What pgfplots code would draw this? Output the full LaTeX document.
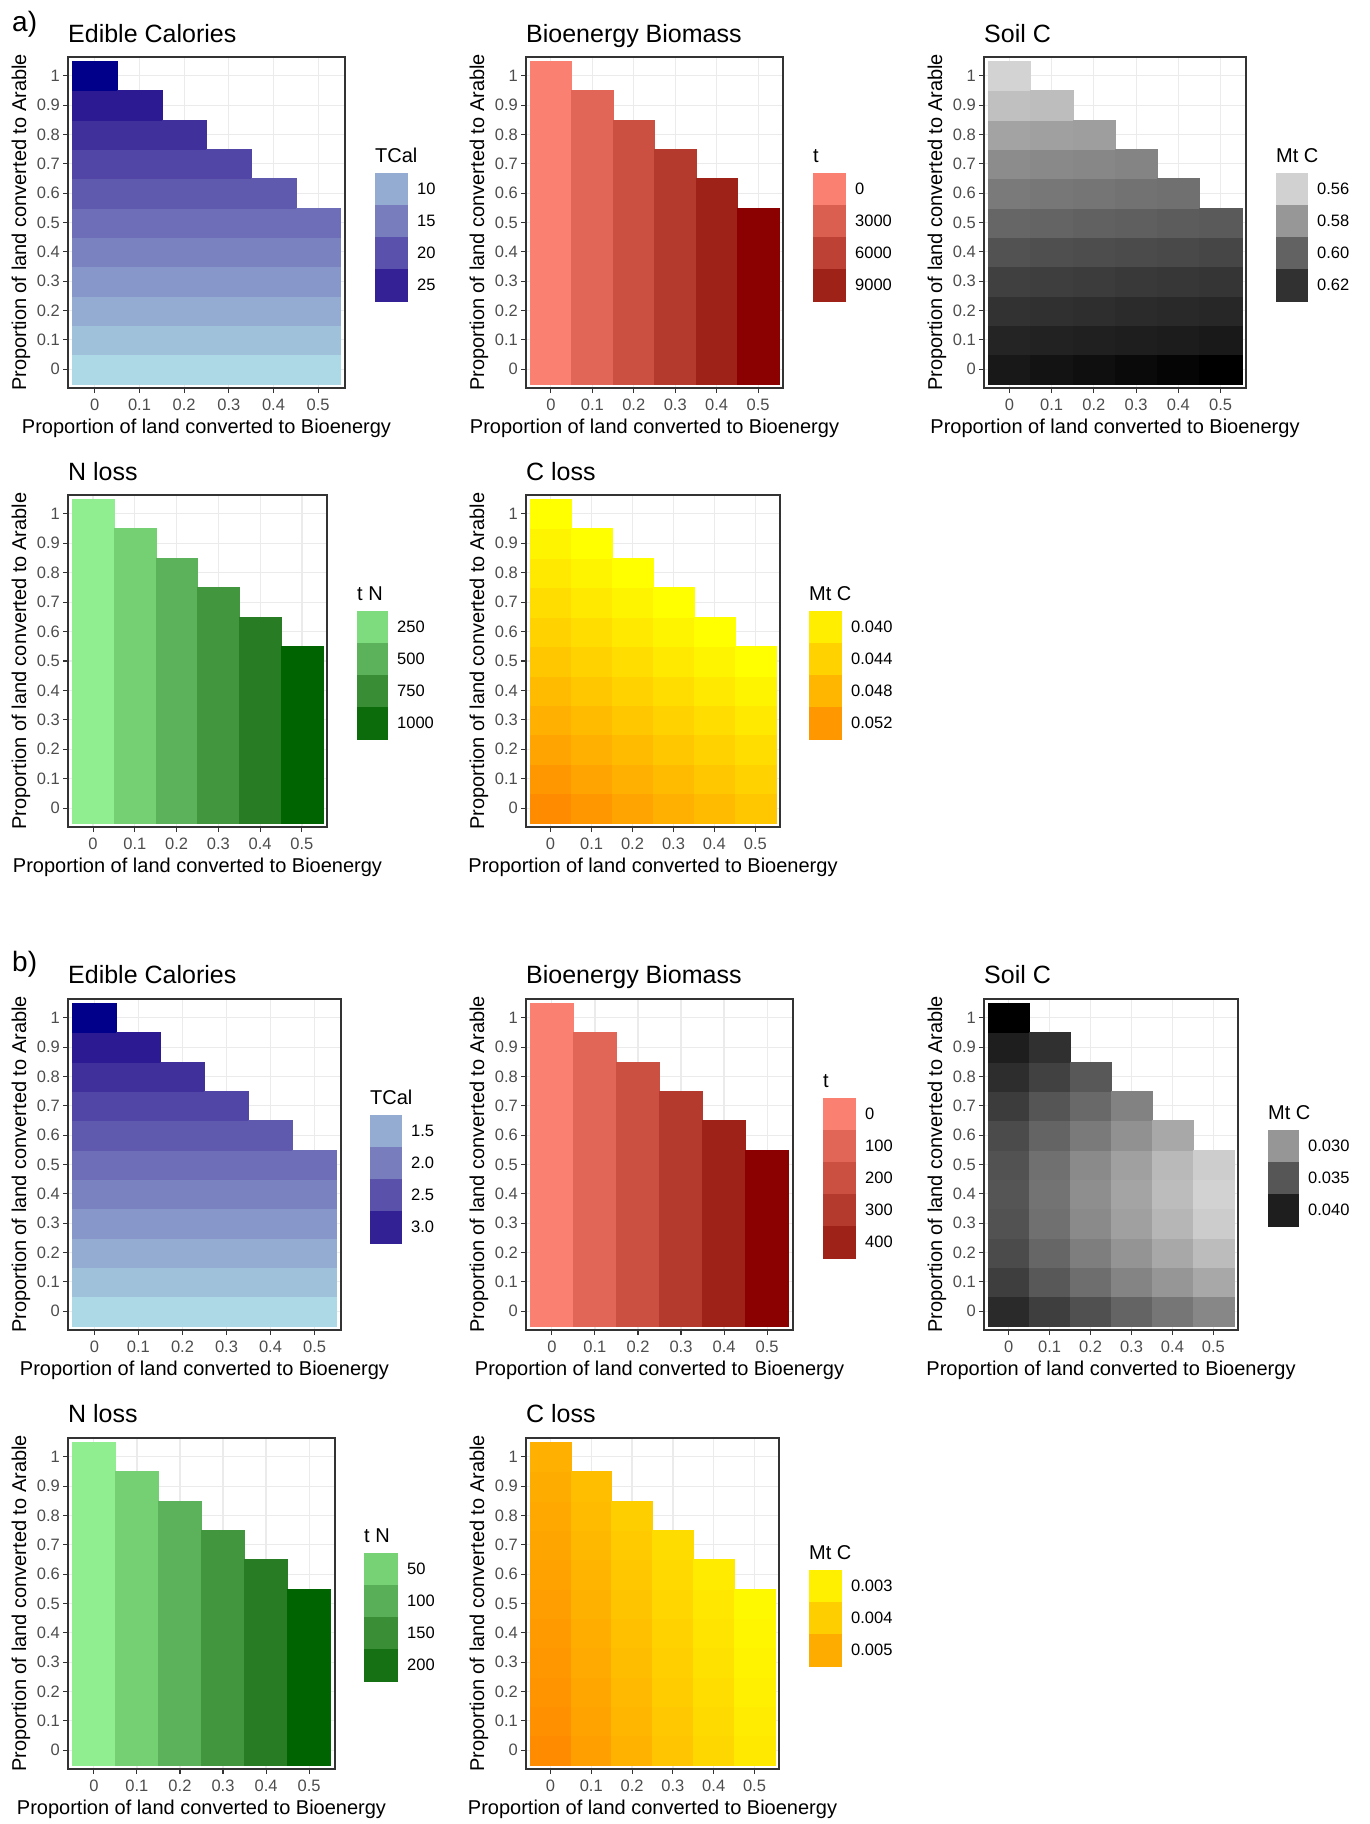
\documentclass[border=0pt]{standalone}
\usepackage{fontspec}
\setmainfont{Liberation Sans}
\usepackage{pgfplots}
\usepackage{pgfplotstable}
\pgfplotsset{compat=1.18}
\definecolor{framec}{HTML}{333333}
\definecolor{gridc}{HTML}{EBEBEB}
\definecolor{tickc}{HTML}{4D4D4D}
\newcommand\tickfont{\fontsize{16.5}{18}\selectfont}
\newcommand\labfont{\fontsize{20}{22}\selectfont}
\newcommand\titlefont{\fontsize{25}{28}\selectfont}
\newcommand\legfont{\fontsize{16.5}{18}\selectfont}
\newcommand\legtfont{\fontsize{20}{22}\selectfont}
\newcommand\panelfont{\fontsize{28}{30}\selectfont}

\pgfplotsset{
 colormap={blues}{rgb255=(173,216,230) rgb255=(160,193,218) rgb255=(148,171,210) rgb255=(136,151,201) rgb255=(123,130,192) rgb255=(110,109,184) rgb255=(96,90,175) rgb255=(81,70,165) rgb255=(64,48,155) rgb255=(44,26,146) rgb255=(0,0,139)},
 colormap={reds}{rgb255=(250,128,114) rgb255=(225,102,88) rgb255=(204,80,66) rgb255=(181,58,46) rgb255=(158,34,24) rgb255=(139,0,0)},
 colormap={greys}{rgb255=(211,211,211) rgb255=(188,188,188) rgb255=(165,165,165) rgb255=(142,142,142) rgb255=(121,121,121) rgb255=(100,100,100) rgb255=(79,79,79) rgb255=(60,60,60) rgb255=(42,42,42) rgb255=(24,24,24) rgb255=(0,0,0)},
 colormap={greens}{rgb255=(144,238,144) rgb255=(117,208,116) rgb255=(92,178,90) rgb255=(66,150,62) rgb255=(40,124,36) rgb255=(0,100,0)},
 colormap={yor}{rgb255=(255,255,0) rgb255=(255,227,0) rgb255=(255,199,0) rgb255=(255,170,0) rgb255=(255,140,0)},
 hm/.style={scale only axis, anchor=north west,
   xmin=-0.06, xmax=0.56, ymin=-0.064, ymax=1.064,
   xtick={0,0.1,0.2,0.3,0.4,0.5}, xticklabels={0,0.1,0.2,0.3,0.4,0.5},
   ytick={0,0.1,0.2,0.3,0.4,0.5,0.6,0.7,0.8,0.9,1},
   yticklabels={0,0.1,0.2,0.3,0.4,0.5,0.6,0.7,0.8,0.9,1},
   grid=major, major grid style={draw=gridc, line width=1.2pt},
   axis line style={draw=framec, line width=1.3pt},
   tick style={draw=framec, line width=1.1pt},
   tick align=outside, major tick length=5pt, tick pos=left,
   tick label style={font=\tickfont, text=tickc},
   xticklabel style={inner sep=6pt},
   yticklabel style={inner sep=3pt}},
 cells/.style 2 args={scatter, only marks, mark=square*,
   mark size={0.05*#2/1.128},
   mark options={xscale={(#1*1.128)/(#2*0.62)}},
   scatter/use mapped color={draw=mapped color, fill=mapped color},
   point meta=explicit},
}

\newcommand{\heat}[8]{%
\begin{axis}[hm, at={(#1pt,-#2pt)}, width=#3pt, height=#4pt, colormap name=#5, point meta min=#6, point meta max=#7]
\addplot[cells={#3}{#4}] table[x=x,y=y,meta=c]{#8};
\end{axis}}

\newcommand{\legkeys}[8]{%
\begin{axis}[at={(#1pt,-#2pt)}, anchor=north west, scale only axis, width=#3pt, height=#4pt, hide axis, xmin=0, xmax=1, ymin=0, ymax=#4, y dir=reverse, colormap name=#5, point meta min=#6, point meta max=#7]
\addplot[scatter, only marks, mark=square*, mark size=16pt, mark options={xscale=#3/32}, scatter/use mapped color={draw=mapped color, fill=mapped color}, point meta=explicit] coordinates {#8};
\end{axis}}

\newcommand{\axlabels}[4]{%
\node[anchor=base,font=\labfont] at ({#1+#3/2},{#2+#4+45}) {Proportion of land converted to Bioenergy};
\node[anchor=base,rotate=90,font=\labfont] at ({#1-42},{#2+#4/2}) {Proportion of land converted to Arable};}

\newcommand{\leglabels}[5]{%
\node[anchor=base west,inner sep=0pt,font=\legtfont] at ({#1},{#2-11}) {#5};
\foreach \lab [count=\i] in {#4} {\node[anchor=west,inner sep=0pt,font=\legfont] at ({#1+#3+10},{#2+(\i-0.5)*32}) {\lab};}}

% ---------------- data (x = bioenergy share, y = arable share, c = value)
\pgfplotstableread[row sep=\\]{
x y c\\
0 0 5.5\\0 0.1 7.75\\0 0.2 10\\0 0.3 12.25\\0 0.4 14.5\\0 0.5 16.75\\0 0.6 19\\0 0.7 21.25\\0 0.8 23.5\\0 0.9 25.75\\0 1 28\\
0.1 0 5.5\\0.1 0.1 7.75\\0.1 0.2 10\\0.1 0.3 12.25\\0.1 0.4 14.5\\0.1 0.5 16.75\\0.1 0.6 19\\0.1 0.7 21.25\\0.1 0.8 23.5\\0.1 0.9 25.75\\
0.2 0 5.5\\0.2 0.1 7.75\\0.2 0.2 10\\0.2 0.3 12.25\\0.2 0.4 14.5\\0.2 0.5 16.75\\0.2 0.6 19\\0.2 0.7 21.25\\0.2 0.8 23.5\\
0.3 0 5.5\\0.3 0.1 7.75\\0.3 0.2 10\\0.3 0.3 12.25\\0.3 0.4 14.5\\0.3 0.5 16.75\\0.3 0.6 19\\0.3 0.7 21.25\\
0.4 0 5.5\\0.4 0.1 7.75\\0.4 0.2 10\\0.4 0.3 12.25\\0.4 0.4 14.5\\0.4 0.5 16.75\\0.4 0.6 19\\
0.5 0 5.5\\0.5 0.1 7.75\\0.5 0.2 10\\0.5 0.3 12.25\\0.5 0.4 14.5\\0.5 0.5 16.75\\
}\aEC

\pgfplotstableread[row sep=\\]{
x y c\\
0 0 0\\0 0.1 0\\0 0.2 0\\0 0.3 0\\0 0.4 0\\0 0.5 0\\0 0.6 0\\0 0.7 0\\0 0.8 0\\0 0.9 0\\0 1 0\\
0.1 0 2250\\0.1 0.1 2250\\0.1 0.2 2250\\0.1 0.3 2250\\0.1 0.4 2250\\0.1 0.5 2250\\0.1 0.6 2250\\0.1 0.7 2250\\0.1 0.8 2250\\0.1 0.9 2250\\
0.2 0 4500\\0.2 0.1 4500\\0.2 0.2 4500\\0.2 0.3 4500\\0.2 0.4 4500\\0.2 0.5 4500\\0.2 0.6 4500\\0.2 0.7 4500\\0.2 0.8 4500\\
0.3 0 6750\\0.3 0.1 6750\\0.3 0.2 6750\\0.3 0.3 6750\\0.3 0.4 6750\\0.3 0.5 6750\\0.3 0.6 6750\\0.3 0.7 6750\\
0.4 0 9000\\0.4 0.1 9000\\0.4 0.2 9000\\0.4 0.3 9000\\0.4 0.4 9000\\0.4 0.5 9000\\0.4 0.6 9000\\
0.5 0 11250\\0.5 0.1 11250\\0.5 0.2 11250\\0.5 0.3 11250\\0.5 0.4 11250\\0.5 0.5 11250\\
}\aBio

\pgfplotstableread[row sep=\\]{
x y c\\
0 0 0.6312\\0 0.1 0.6258\\0 0.2 0.6197\\0 0.3 0.6135\\0 0.4 0.6061\\0 0.5 0.5984\\0 0.6 0.5908\\0 0.7 0.5840\\0 0.8 0.5759\\0 0.9 0.5658\\0 1 0.5592\\
0.1 0 0.6328\\0.1 0.1 0.6268\\0.1 0.2 0.6207\\0.1 0.3 0.6145\\0.1 0.4 0.6071\\0.1 0.5 0.5994\\0.1 0.6 0.5918\\0.1 0.7 0.5850\\0.1 0.8 0.5769\\0.1 0.9 0.5668\\
0.2 0 0.6344\\0.2 0.1 0.6277\\0.2 0.2 0.6216\\0.2 0.3 0.6154\\0.2 0.4 0.6080\\0.2 0.5 0.6003\\0.2 0.6 0.5927\\0.2 0.7 0.5859\\0.2 0.8 0.5778\\
0.3 0 0.6360\\0.3 0.1 0.6287\\0.3 0.2 0.6226\\0.3 0.3 0.6164\\0.3 0.4 0.6090\\0.3 0.5 0.6013\\0.3 0.6 0.5937\\0.3 0.7 0.5869\\
0.4 0 0.6376\\0.4 0.1 0.6296\\0.4 0.2 0.6235\\0.4 0.3 0.6173\\0.4 0.4 0.6099\\0.4 0.5 0.6022\\0.4 0.6 0.5946\\
0.5 0 0.6392\\0.5 0.1 0.6306\\0.5 0.2 0.6245\\0.5 0.3 0.6183\\0.5 0.4 0.6109\\0.5 0.5 0.6032\\
}\aSoil

\pgfplotstableread[row sep=\\]{
x y c\\
0 0 130\\0 0.1 130\\0 0.2 130\\0 0.3 130\\0 0.4 130\\0 0.5 130\\0 0.6 130\\0 0.7 130\\0 0.8 130\\0 0.9 130\\0 1 130\\
0.1 0 315\\0.1 0.1 315\\0.1 0.2 315\\0.1 0.3 315\\0.1 0.4 315\\0.1 0.5 315\\0.1 0.6 315\\0.1 0.7 315\\0.1 0.8 315\\0.1 0.9 315\\
0.2 0 500\\0.2 0.1 500\\0.2 0.2 500\\0.2 0.3 500\\0.2 0.4 500\\0.2 0.5 500\\0.2 0.6 500\\0.2 0.7 500\\0.2 0.8 500\\
0.3 0 685\\0.3 0.1 685\\0.3 0.2 685\\0.3 0.3 685\\0.3 0.4 685\\0.3 0.5 685\\0.3 0.6 685\\0.3 0.7 685\\
0.4 0 870\\0.4 0.1 870\\0.4 0.2 870\\0.4 0.3 870\\0.4 0.4 870\\0.4 0.5 870\\0.4 0.6 870\\
0.5 0 1055\\0.5 0.1 1055\\0.5 0.2 1055\\0.5 0.3 1055\\0.5 0.4 1055\\0.5 0.5 1055\\
}\aN

\pgfplotstableread[row sep=\\]{
x y c\\
0 0 0.0536\\0 0.1 0.0520\\0 0.2 0.0504\\0 0.3 0.0488\\0 0.4 0.0472\\0 0.5 0.0456\\0 0.6 0.0440\\0 0.7 0.0424\\0 0.8 0.0408\\0 0.9 0.0392\\0 1 0.0376\\
0.1 0 0.0520\\0.1 0.1 0.0504\\0.1 0.2 0.0488\\0.1 0.3 0.0472\\0.1 0.4 0.0456\\0.1 0.5 0.0440\\0.1 0.6 0.0424\\0.1 0.7 0.0408\\0.1 0.8 0.0392\\0.1 0.9 0.0376\\
0.2 0 0.0504\\0.2 0.1 0.0488\\0.2 0.2 0.0472\\0.2 0.3 0.0456\\0.2 0.4 0.0440\\0.2 0.5 0.0424\\0.2 0.6 0.0408\\0.2 0.7 0.0392\\0.2 0.8 0.0376\\
0.3 0 0.0488\\0.3 0.1 0.0472\\0.3 0.2 0.0456\\0.3 0.3 0.0440\\0.3 0.4 0.0424\\0.3 0.5 0.0408\\0.3 0.6 0.0392\\0.3 0.7 0.0376\\
0.4 0 0.0472\\0.4 0.1 0.0456\\0.4 0.2 0.0440\\0.4 0.3 0.0424\\0.4 0.4 0.0408\\0.4 0.5 0.0392\\0.4 0.6 0.0376\\
0.5 0 0.0456\\0.5 0.1 0.0440\\0.5 0.2 0.0424\\0.5 0.3 0.0408\\0.5 0.4 0.0392\\0.5 0.5 0.0376\\
}\aC

\pgfplotstableread[row sep=\\]{
x y c\\
0 0 1.05\\0 0.1 1.27\\0 0.2 1.5\\0 0.3 1.72\\0 0.4 1.95\\0 0.5 2.17\\0 0.6 2.39\\0 0.7 2.62\\0 0.8 2.84\\0 0.9 3.07\\0 1 3.29\\
0.1 0 1.05\\0.1 0.1 1.27\\0.1 0.2 1.5\\0.1 0.3 1.72\\0.1 0.4 1.95\\0.1 0.5 2.17\\0.1 0.6 2.39\\0.1 0.7 2.62\\0.1 0.8 2.84\\0.1 0.9 3.07\\
0.2 0 1.05\\0.2 0.1 1.27\\0.2 0.2 1.5\\0.2 0.3 1.72\\0.2 0.4 1.95\\0.2 0.5 2.17\\0.2 0.6 2.39\\0.2 0.7 2.62\\0.2 0.8 2.84\\
0.3 0 1.05\\0.3 0.1 1.27\\0.3 0.2 1.5\\0.3 0.3 1.72\\0.3 0.4 1.95\\0.3 0.5 2.17\\0.3 0.6 2.39\\0.3 0.7 2.62\\
0.4 0 1.05\\0.4 0.1 1.27\\0.4 0.2 1.5\\0.4 0.3 1.72\\0.4 0.4 1.95\\0.4 0.5 2.17\\0.4 0.6 2.39\\
0.5 0 1.05\\0.5 0.1 1.27\\0.5 0.2 1.5\\0.5 0.3 1.72\\0.5 0.4 1.95\\0.5 0.5 2.17\\
}\bEC

\pgfplotstableread[row sep=\\]{
x y c\\
0 0 0\\0 0.1 0\\0 0.2 0\\0 0.3 0\\0 0.4 0\\0 0.5 0\\0 0.6 0\\0 0.7 0\\0 0.8 0\\0 0.9 0\\0 1 0\\
0.1 0 100\\0.1 0.1 100\\0.1 0.2 100\\0.1 0.3 100\\0.1 0.4 100\\0.1 0.5 100\\0.1 0.6 100\\0.1 0.7 100\\0.1 0.8 100\\0.1 0.9 100\\
0.2 0 200\\0.2 0.1 200\\0.2 0.2 200\\0.2 0.3 200\\0.2 0.4 200\\0.2 0.5 200\\0.2 0.6 200\\0.2 0.7 200\\0.2 0.8 200\\
0.3 0 300\\0.3 0.1 300\\0.3 0.2 300\\0.3 0.3 300\\0.3 0.4 300\\0.3 0.5 300\\0.3 0.6 300\\0.3 0.7 300\\
0.4 0 400\\0.4 0.1 400\\0.4 0.2 400\\0.4 0.3 400\\0.4 0.4 400\\0.4 0.5 400\\0.4 0.6 400\\
0.5 0 500\\0.5 0.1 500\\0.5 0.2 500\\0.5 0.3 500\\0.5 0.4 500\\0.5 0.5 500\\
}\bBio

\pgfplotstableread[row sep=\\]{
x y c\\
0 0 0.03891\\0 0.1 0.03706\\0 0.2 0.03592\\0 0.3 0.03534\\0 0.4 0.03509\\0 0.5 0.03534\\0 0.6 0.03592\\0 0.7 0.03724\\0 0.8 0.03863\\0 0.9 0.04002\\0 1 0.04224\\
0.1 0 0.03706\\0.1 0.1 0.03486\\0.1 0.2 0.03374\\0.1 0.3 0.03295\\0.1 0.4 0.03272\\0.1 0.5 0.03295\\0.1 0.6 0.03391\\0.1 0.7 0.03509\\0.1 0.8 0.03681\\0.1 0.9 0.03835\\
0.2 0 0.03549\\0.2 0.1 0.03311\\0.2 0.2 0.03184\\0.2 0.3 0.03089\\0.2 0.4 0.03057\\0.2 0.5 0.03089\\0.2 0.6 0.03215\\0.2 0.7 0.03350\\0.2 0.8 0.03486\\
0.3 0 0.03391\\0.3 0.1 0.03137\\0.3 0.2 0.03014\\0.3 0.3 0.02927\\0.3 0.4 0.02897\\0.3 0.5 0.02927\\0.3 0.6 0.03035\\0.3 0.7 0.03152\\
0.4 0 0.03247\\0.4 0.1 0.02999\\0.4 0.2 0.02869\\0.4 0.3 0.02767\\0.4 0.4 0.02724\\0.4 0.5 0.02745\\0.4 0.6 0.02869\\
0.5 0 0.03112\\0.5 0.1 0.02869\\0.5 0.2 0.02724\\0.5 0.3 0.02607\\0.5 0.4 0.02564\\0.5 0.5 0.02600\\
}\bSoil

\pgfplotstableread[row sep=\\]{
x y c\\
0 0 10\\0 0.1 10\\0 0.2 10\\0 0.3 10\\0 0.4 10\\0 0.5 10\\0 0.6 10\\0 0.7 10\\0 0.8 10\\0 0.9 10\\0 1 10\\
0.1 0 52.5\\0.1 0.1 52.5\\0.1 0.2 52.5\\0.1 0.3 52.5\\0.1 0.4 52.5\\0.1 0.5 52.5\\0.1 0.6 52.5\\0.1 0.7 52.5\\0.1 0.8 52.5\\0.1 0.9 52.5\\
0.2 0 95\\0.2 0.1 95\\0.2 0.2 95\\0.2 0.3 95\\0.2 0.4 95\\0.2 0.5 95\\0.2 0.6 95\\0.2 0.7 95\\0.2 0.8 95\\
0.3 0 137.5\\0.3 0.1 137.5\\0.3 0.2 137.5\\0.3 0.3 137.5\\0.3 0.4 137.5\\0.3 0.5 137.5\\0.3 0.6 137.5\\0.3 0.7 137.5\\
0.4 0 180\\0.4 0.1 180\\0.4 0.2 180\\0.4 0.3 180\\0.4 0.4 180\\0.4 0.5 180\\0.4 0.6 180\\
0.5 0 222.5\\0.5 0.1 222.5\\0.5 0.2 222.5\\0.5 0.3 222.5\\0.5 0.4 222.5\\0.5 0.5 222.5\\
}\bN

\pgfplotstableread[row sep=\\]{
x y c\\
0 0 0.005870\\0 0.1 0.005771\\0 0.2 0.005672\\0 0.3 0.005573\\0 0.4 0.005474\\0 0.5 0.005375\\0 0.6 0.005276\\0 0.7 0.005177\\0 0.8 0.005078\\0 0.9 0.004979\\0 1 0.004880\\
0.1 0 0.005342\\0.1 0.1 0.005243\\0.1 0.2 0.005144\\0.1 0.3 0.005045\\0.1 0.4 0.004946\\0.1 0.5 0.004847\\0.1 0.6 0.004748\\0.1 0.7 0.004649\\0.1 0.8 0.004550\\0.1 0.9 0.004451\\
0.2 0 0.004814\\0.2 0.1 0.004715\\0.2 0.2 0.004616\\0.2 0.3 0.004517\\0.2 0.4 0.004418\\0.2 0.5 0.004319\\0.2 0.6 0.004220\\0.2 0.7 0.004121\\0.2 0.8 0.004022\\
0.3 0 0.004286\\0.3 0.1 0.004187\\0.3 0.2 0.004088\\0.3 0.3 0.003989\\0.3 0.4 0.003890\\0.3 0.5 0.003791\\0.3 0.6 0.003692\\0.3 0.7 0.003593\\
0.4 0 0.003758\\0.4 0.1 0.003659\\0.4 0.2 0.003560\\0.4 0.3 0.003461\\0.4 0.4 0.003362\\0.4 0.5 0.003263\\0.4 0.6 0.003164\\
0.5 0 0.003230\\0.5 0.1 0.003131\\0.5 0.2 0.003032\\0.5 0.3 0.002933\\0.5 0.4 0.002834\\0.5 0.5 0.002735\\
}\bC

\begin{document}
\begin{tikzpicture}
\path[use as bounding box] (0,0) rectangle (1369pt,-1824pt);

% ---- a) heat maps
\heat{68}{57}{277}{331}{blues}{5.5}{28}{\aEC}
\heat{526}{57}{257}{331}{reds}{0}{11250}{\aBio}
\heat{984}{57}{262}{331}{greys}{0.5592}{0.6392}{\aSoil}
\heat{68}{495}{259}{332}{greens}{130}{1055}{\aN}
\heat{526}{495}{254}{332}{yor}{0.0376}{0.0536}{\aC}
% ---- b) heat maps
\heat{68}{999}{273}{331}{blues}{1.05}{3.29}{\bEC}
\heat{526}{999}{267}{331}{reds}{0}{500}{\bBio}
\heat{984}{999}{254}{331}{greys}{0.02557}{0.04224}{\bSoil}
\heat{68}{1438}{267}{331}{greens}{10}{222.5}{\bN}
\heat{526}{1438}{253}{331}{yor}{0.00257}{0.00587}{\bC}

% ---- legend keys
\legkeys{375}{173}{32}{128}{blues}{5.5}{28}{(0.5,16) [10] (0.5,48) [15] (0.5,80) [20] (0.5,112) [25]}
\legkeys{813}{173}{32}{128}{reds}{0}{11250}{(0.5,16) [0] (0.5,48) [3000] (0.5,80) [6000] (0.5,112) [9000]}
\legkeys{1276}{173}{31}{128}{greys}{0.5592}{0.6392}{(0.5,16) [0.56] (0.5,48) [0.58] (0.5,80) [0.60] (0.5,112) [0.62]}
\legkeys{357}{611}{30}{128}{greens}{130}{1055}{(0.5,16) [250] (0.5,48) [500] (0.5,80) [750] (0.5,112) [1000]}
\legkeys{809}{611}{32}{128}{yor}{0.0376}{0.0536}{(0.5,16) [0.040] (0.5,48) [0.044] (0.5,80) [0.048] (0.5,112) [0.052]}
\legkeys{370}{1115}{31}{128}{blues}{1.05}{3.29}{(0.5,16) [1.5] (0.5,48) [2.0] (0.5,80) [2.5] (0.5,112) [3.0]}
\legkeys{823}{1098}{32}{160}{reds}{0}{500}{(0.5,16) [0] (0.5,48) [100] (0.5,80) [200] (0.5,112) [300] (0.5,144) [400]}
\legkeys{1268}{1130}{30}{96}{greys}{0.02557}{0.04224}{(0.5,16) [0.030] (0.5,48) [0.035] (0.5,80) [0.040]}
\legkeys{364}{1553}{33}{128}{greens}{10}{222.5}{(0.5,16) [50] (0.5,48) [100] (0.5,80) [150] (0.5,112) [200]}
\legkeys{809}{1570}{32}{96}{yor}{0.00257}{0.00587}{(0.5,16) [0.003] (0.5,48) [0.004] (0.5,80) [0.005]}

\begin{scope}[x=1pt,y=-1pt]
\node[anchor=base west,inner sep=0pt,font=\panelfont] at (12,31) {a)};
\node[anchor=base west,inner sep=0pt,font=\panelfont] at (12,971) {b)};
\foreach \tx/\ty/\tt in {68/42/Edible Calories, 526/42/Bioenergy Biomass, 984/42/Soil C, 68/480/N loss, 526/480/C loss, 68/983/Edible Calories, 526/983/Bioenergy Biomass, 984/983/Soil C, 68/1422/N loss, 526/1422/C loss}
  {\node[anchor=base west,inner sep=0pt,font=\titlefont] at (\tx,\ty) {\tt};}
\axlabels{68}{57}{277}{331}
\axlabels{526}{57}{257}{331}
\axlabels{984}{57}{262}{331}
\axlabels{68}{495}{259}{332}
\axlabels{526}{495}{254}{332}
\axlabels{68}{999}{273}{331}
\axlabels{526}{999}{267}{331}
\axlabels{984}{999}{254}{331}
\axlabels{68}{1438}{267}{331}
\axlabels{526}{1438}{253}{331}
\leglabels{375}{173}{32}{10,15,20,25}{TCal}
\leglabels{813}{173}{32}{0,3000,6000,9000}{t}
\leglabels{1276}{173}{31}{0.56,0.58,0.60,0.62}{Mt C}
\leglabels{357}{611}{30}{250,500,750,1000}{t N}
\leglabels{809}{611}{32}{0.040,0.044,0.048,0.052}{Mt C}
\leglabels{370}{1115}{31}{1.5,2.0,2.5,3.0}{TCal}
\leglabels{823}{1098}{32}{0,100,200,300,400}{t}
\leglabels{1268}{1130}{30}{0.030,0.035,0.040}{Mt C}
\leglabels{364}{1553}{33}{50,100,150,200}{t N}
\leglabels{809}{1570}{32}{0.003,0.004,0.005}{Mt C}
\end{scope}
\end{tikzpicture}
\end{document}
